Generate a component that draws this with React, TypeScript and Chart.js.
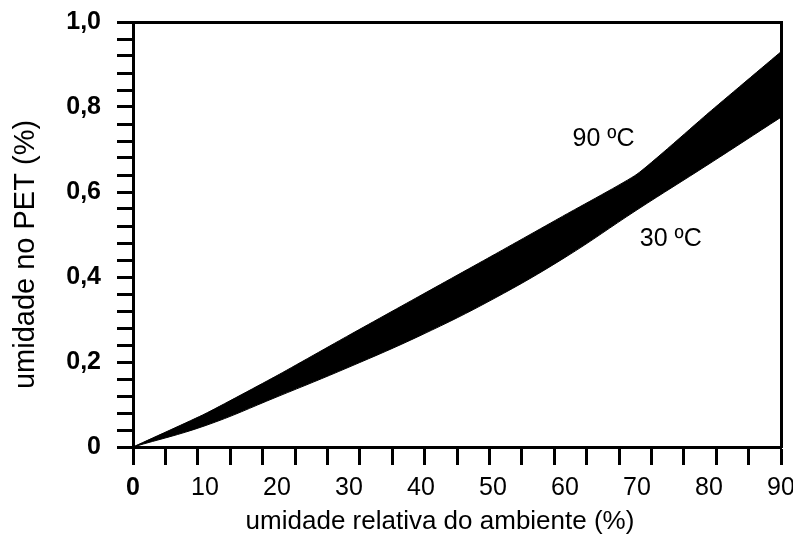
import React, { useEffect, useRef } from 'react';
import { Chart, registerables } from 'chart.js';

Chart.register(...registerables);

// Relative humidity of the environment (%)
const humidity = [0, 10, 20, 30, 40, 50, 60, 70, 80, 90];
// Moisture in PET (%) at 90 ºC (upper edge of band)
const pet90 = [0, 0.078, 0.168, 0.263, 0.357, 0.451, 0.546, 0.642, 0.787, 0.93];
// Moisture in PET (%) at 30 ºC (lower edge of band)
const pet30 = [0, 0.05, 0.118, 0.188, 0.263, 0.348, 0.446, 0.558, 0.666, 0.776];

// Tick marks (unlabelled) and labelled tick values
const xMinorTicks = [0, 4.5, 9, 13.5, 18, 22.5, 27, 31.5, 36, 40.5, 45, 49.5, 54, 58.5, 63, 67.5, 72, 76.5, 81, 85.5, 90];
const yMinorTicks = [0, 0.04, 0.08, 0.12, 0.16, 0.2, 0.24, 0.28, 0.32, 0.36, 0.4, 0.44, 0.48, 0.52, 0.56, 0.6, 0.64, 0.68, 0.72, 0.76, 0.8, 0.84, 0.88, 0.92, 0.96, 1.0];
const xLabelTicks = [0, 10, 20, 30, 40, 50, 60, 70, 80, 90];
const yLabelTicks = [0, 0.2, 0.4, 0.6, 0.8, 1.0];

// Curve labels
const noteTexts = ['90 ºC', '30 ºC'];
const noteX = [65.35, 74.7];
const noteY = [0.725, 0.489];

const yTitle = 'umidade no PET (%)';
const xTitle = 'umidade relativa do ambiente (%)';

const FONT = '"Liberation Sans", Arial, Helvetica, sans-serif';

const notesPlugin = {
  id: 'curveNotes',
  afterDatasetsDraw(chart: any) {
    const { ctx, scales, chartArea } = chart;
    const xs = scales.x;
    const ys = scales.y;
    ctx.save();
    ctx.font = `25px ${FONT}`;
    ctx.fillStyle = '#000';
    ctx.textAlign = 'center';
    ctx.textBaseline = 'middle';
    noteTexts.forEach((t, i) => {
      ctx.fillText(t, xs.getPixelForValue(noteX[i]), ys.getPixelForValue(noteY[i]));
    });
    ctx.restore();

    // horizontal axis title
    ctx.save();
    ctx.font = `26px ${FONT}`;
    ctx.fillStyle = '#000';
    ctx.textAlign = 'center';
    ctx.textBaseline = 'middle';
    ctx.fillText(xTitle, (chartArea.left + chartArea.right) / 2 - 17, xs.bottom - 16);
    ctx.restore();

    // vertical axis title
    ctx.save();
    ctx.font = `29px ${FONT}`;
    ctx.fillStyle = '#000';
    ctx.textAlign = 'center';
    ctx.textBaseline = 'middle';
    ctx.translate(ys.left + 26, (chartArea.top + chartArea.bottom) / 2 + 20);
    ctx.rotate(-Math.PI / 2);
    ctx.fillText(yTitle, 0, 0);
    ctx.restore();
  },
};

export default function App() {
  const canvasRef = useRef<HTMLCanvasElement | null>(null);

  useEffect(() => {
    document.body.style.margin = '0';
    const canvas = canvasRef.current;
    if (!canvas) return;

    const upper = humidity.map((h, i) => ({ x: h, y: pet90[i] }));
    const lower = humidity.map((h, i) => ({ x: h, y: pet30[i] }));

    const chart = new Chart(canvas, {
      type: 'line',
      data: {
        datasets: [
          {
            label: '90 ºC',
            data: upper,
            borderColor: '#000',
            backgroundColor: '#000',
            borderWidth: 1,
            pointRadius: 0,
            tension: 0.15,
            fill: '+1',
          },
          {
            label: '30 ºC',
            data: lower,
            borderColor: '#000',
            backgroundColor: '#000',
            borderWidth: 1,
            pointRadius: 0,
            tension: 0.4,
            fill: false,
          },
        ],
      },
      options: {
        responsive: false,
        animation: false,
        devicePixelRatio: 1,
        layout: { padding: { top: 22, right: 12, left: 0, bottom: 0 } },
        plugins: {
          legend: { display: false },
          tooltip: { enabled: false },
        },
        scales: {
          x: {
            type: 'linear',
            position: 'bottom',
            weight: 1,
            min: 0,
            max: 90,
            grid: { display: false, drawTicks: false },
            border: { display: false },
            afterBuildTicks: (axis: any) => {
              axis.ticks = xLabelTicks.map((v) => ({ value: v }));
            },
            afterFit: (axis: any) => {
              axis.height = 73;
              axis.paddingRight = 0;
              axis.paddingLeft = 0;
            },
            ticks: {
              autoSkip: false,
              maxRotation: 0,
              padding: 8,
              color: '#000',
              font: (ctx: any) =>
                ctx.tick && ctx.tick.value === 0
                  ? { family: FONT, size: 25, weight: 'bold' }
                  : { family: FONT, size: 25, weight: 'normal' },
              callback: (v: any) => String(v),
            },
            title: { display: false },
          },
          xMinor: {
            type: 'linear',
            position: 'bottom',
            weight: 0,
            min: 0,
            max: 90,
            afterBuildTicks: (axis: any) => {
              axis.ticks = xMinorTicks.map((v) => ({ value: v }));
            },
            afterFit: (axis: any) => {
              axis.height = 18;
              axis.paddingRight = 0;
              axis.paddingLeft = 0;
            },
            ticks: { display: false },
            grid: {
              display: true,
              drawOnChartArea: false,
              drawTicks: true,
              tickLength: 18,
              tickWidth: 3,
              tickColor: '#000',
              color: '#000',
            },
            border: { display: true, color: '#000', width: 3 },
          },
          xTop: {
            type: 'linear',
            position: 'top',
            min: 0,
            max: 90,
            afterFit: (axis: any) => {
              axis.height = 0;
              axis.paddingRight = 0;
              axis.paddingLeft = 0;
            },
            ticks: { display: false },
            grid: { display: true, drawOnChartArea: false, drawTicks: false, color: '#000' },
            border: { display: true, color: '#000', width: 3 },
          },
          y: {
            type: 'linear',
            position: 'left',
            weight: 1,
            min: 0,
            max: 1,
            grid: { display: false, drawTicks: false },
            border: { display: false },
            afterBuildTicks: (axis: any) => {
              axis.ticks = yLabelTicks.map((v) => ({ value: v }));
            },
            afterFit: (axis: any) => {
              axis.width = 117;
              axis.paddingTop = 0;
              axis.paddingBottom = 0;
            },
            ticks: {
              padding: 16,
              color: '#000',
              font: { family: FONT, size: 25, weight: 'bold' },
              callback: (v: any) => (Number(v) === 0 ? '0' : Number(v).toFixed(1).replace('.', ',')),
            },
          },
          yMinor: {
            type: 'linear',
            position: 'left',
            weight: 0,
            min: 0,
            max: 1,
            afterBuildTicks: (axis: any) => {
              axis.ticks = yMinorTicks.map((v) => ({ value: v }));
            },
            afterFit: (axis: any) => {
              axis.width = 16;
              axis.paddingTop = 0;
              axis.paddingBottom = 0;
            },
            ticks: { display: false },
            grid: {
              display: true,
              drawOnChartArea: false,
              drawTicks: true,
              tickLength: 16,
              tickWidth: 3,
              tickColor: '#000',
              color: '#000',
            },
            border: { display: true, color: '#000', width: 3 },
          },
          yRight: {
            type: 'linear',
            position: 'right',
            min: 0,
            max: 1,
            afterFit: (axis: any) => {
              axis.width = 0;
              axis.paddingTop = 0;
              axis.paddingBottom = 0;
            },
            ticks: { display: false },
            grid: { display: true, drawOnChartArea: false, drawTicks: false, color: '#000' },
            border: { display: true, color: '#000', width: 3 },
          },
        },
      } as any,
      plugins: [notesPlugin],
    });

    return () => {
      chart.destroy();
    };
  }, []);

  return (
    <div style={{ width: 793, height: 538, background: '#fff' }}>
      <canvas ref={canvasRef} width={793} height={538} style={{ display: 'block' }} />
    </div>
  );
}
